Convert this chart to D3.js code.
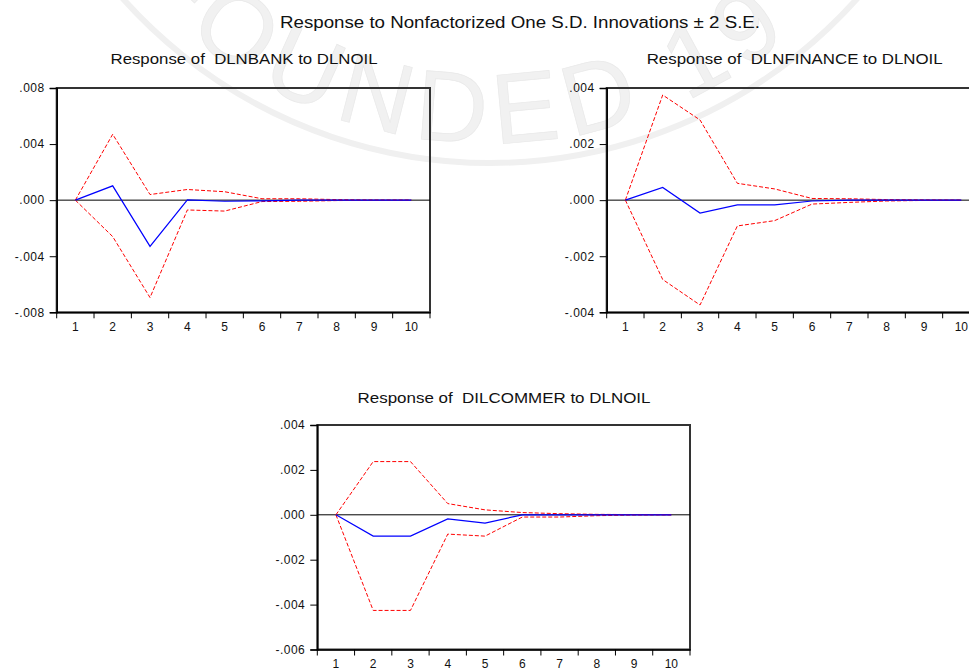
<!DOCTYPE html>
<html>
<head>
<meta charset="utf-8">
<script src="https://cdn.jsdelivr.net/npm/d3@7"></script>
<style>
  html, body { margin: 0; padding: 0; background: #fff; }
  svg { display: block; }
  text { font-family: "Liberation Sans", Arial, sans-serif; }
</style>
</head>
<body>
<svg id="chart" width="969" height="668"></svg>
<script>
// ---------------- data ----------------
const periods = [1, 2, 3, 4, 5, 6, 7, 8, 9, 10];

const mainTitle = "Response to Nonfactorized One S.D. Innovations \u00B1 2 S.E.";

const bankTitle = "Response of\u00A0 DLNBANK to DLNOIL";
const bankResp  = [0, 0.00102, -0.0033, 0.00002, -0.00008, -0.00005, 0, 0, 0, 0];
const bankUpper = [0, 0.0047, 0.0004, 0.00076, 0.0006, 0.0001, 0.0001, 0.00004, 0.00001, 0];
const bankLower = [0, -0.0026, -0.00695, -0.0007, -0.00078, -0.0001, -0.00008, -0.00003, -0.00001, 0];
const bankTicks = [-0.008, -0.004, 0, 0.004, 0.008];

const finTitle = "Response of\u00A0 DLNFINANCE to DLNOIL";
const finResp  = [0, 0.00045, -0.00046, -0.00017, -0.00017, -0.00003, 0, 0, 0, 0];
const finUpper = [0, 0.00375, 0.00286, 0.0006, 0.0004, 0.00006, 0.00005, 0.00002, 0.00001, 0];
const finLower = [0, -0.00283, -0.00374, -0.00092, -0.00073, -0.00014, -0.00008, -0.00003, -0.00001, 0];
const finTicks = [-0.004, -0.002, 0, 0.002, 0.004];

const comTitle = "Response of\u00A0 DILCOMMER to DLNOIL";
const comResp  = [0, -0.00095, -0.00095, -0.00018, -0.00037, 0, 0, 0, 0, 0];
const comUpper = [0, 0.00237, 0.00237, 0.0005, 0.00022, 0.0001, 0.00005, 0.00002, 0.00001, 0];
const comLower = [0, -0.00426, -0.00426, -0.00086, -0.00095, -0.0001, -0.0001, -0.00004, -0.00001, 0];
const comTicks = [-0.006, -0.004, -0.002, 0, 0.002, 0.004];

const watermarkText = "FOUNDED 19";

// ---------------- drawing ----------------
const svg = d3.select("#chart");
svg.append("rect").attr("width", 969).attr("height", 668).attr("fill", "#fff");

// faint watermark (seal)
const wm = svg.append("g");
const wcx = 490, wcy = -329, wr = 472;
const arcPath = (r, a0, a1) => { const p = d3.path(); p.arc(wcx, wcy, r, a0, a1, true); return p.toString(); };
wm.append("defs").append("path")
  .attr("id", "wmArc")
  .attr("d", arcPath(wr, Math.PI * 0.95, Math.PI * 0.05));
wm.append("text")
  .attr("font-family", "'Liberation Serif', 'DejaVu Serif', serif")
  .attr("font-size", 100)
  .attr("fill", "#f1f1f1")
  .attr("stroke", "#e9e9e9")
  .attr("stroke-width", 0.7)
  .attr("letter-spacing", 10)
  .append("textPath")
  .attr("href", "#wmArc")
  .attr("startOffset", "20%")
  .text(watermarkText);
wm.append("path")
  .attr("d", arcPath(492, Math.PI * 0.93, Math.PI * 0.07))
  .attr("fill", "none").attr("stroke", "#f0f0f0").attr("stroke-width", 6);

svg.append("text")
  .attr("x", 520).attr("y", 28)
  .attr("text-anchor", "middle")
  .attr("font-size", 16)
  .attr("textLength", 480)
  .attr("lengthAdjust", "spacingAndGlyphs")
  .attr("fill", "#111")
  .text(mainTitle);

const fmt = d => {
  const s = d3.format(".3f")(Math.abs(d)).replace(/^0/, "");
  return (d < -1e-12 ? "-" : "") + s;
};

function panel(opts) {
  const { left, top, width, height, domain, ticks, resp, upper, lower, title, titleX, titleY, titleLen } = opts;
  const g = svg.append("g");
  const x = d3.scaleBand().domain(periods).range([left, left + width]).padding(0);
  const y = d3.scaleLinear().domain(domain).range([top + height, top]);
  const cx = p => x(p) + x.bandwidth() / 2;

  // title
  g.append("text")
    .attr("x", titleX)
    .attr("y", titleY)
    .attr("text-anchor", "middle")
    .attr("font-size", 15)
    .attr("textLength", titleLen)
    .attr("lengthAdjust", "spacingAndGlyphs")
    .attr("fill", "#111")
    .text(title);

  // frame
  g.append("rect")
    .attr("x", left).attr("y", top)
    .attr("width", width).attr("height", height)
    .attr("fill", "none").attr("stroke", "#333").attr("stroke-width", 2);

  // zero line
  g.append("line")
    .attr("x1", left).attr("x2", left + width)
    .attr("y1", y(0)).attr("y2", y(0))
    .attr("stroke", "#000").attr("stroke-width", 1);

  // y axis
  const ya = g.append("g")
    .attr("transform", `translate(${left},0)`)
    .call(d3.axisLeft(y).tickValues(ticks).tickFormat(fmt).tickSize(7).tickPadding(5));
  ya.select(".domain").attr("stroke", "#000").attr("stroke-width", 1.5);
  ya.selectAll(".tick line").attr("stroke", "#000");
  ya.selectAll(".tick text")
    .attr("font-family", "'Liberation Sans', Arial, sans-serif")
    .attr("font-size", 12).attr("fill", "#111").attr("letter-spacing", 0.5);

  // x axis labels
  const xa = g.append("g")
    .attr("transform", `translate(0,${top + height})`)
    .call(d3.axisBottom(x).tickSize(0).tickPadding(10));
  xa.select(".domain").attr("stroke", "#000").attr("stroke-width", 1.5);
  xa.selectAll(".tick text")
    .attr("font-family", "'Liberation Sans', Arial, sans-serif")
    .attr("font-size", 12).attr("fill", "#111");
  // x tick marks at band boundaries
  const edges = periods.map(p => x(p)).concat([x.range()[1]]);
  g.selectAll(".xtick").data(edges).enter().append("line")
    .attr("x1", d => d).attr("x2", d => d)
    .attr("y1", top + height).attr("y2", top + height + 6)
    .attr("stroke", "#000").attr("stroke-width", 1);

  const line = d3.line().x((d, i) => cx(periods[i])).y(d => y(d));
  g.append("path").datum(upper).attr("d", line)
    .attr("fill", "none").attr("stroke", "#ff0000").attr("stroke-width", 1)
    .attr("stroke-dasharray", "4,2");
  g.append("path").datum(lower).attr("d", line)
    .attr("fill", "none").attr("stroke", "#ff0000").attr("stroke-width", 1)
    .attr("stroke-dasharray", "4,2");
  g.append("path").datum(resp).attr("d", line)
    .attr("fill", "none").attr("stroke", "#0000ff").attr("stroke-width", 1.2);
}

panel({ left: 56.7, top: 88, width: 373.3, height: 224.3, domain: [-0.008, 0.008], ticks: bankTicks,
        resp: bankResp, upper: bankUpper, lower: bankLower, title: bankTitle, titleX: 244, titleY: 64, titleLen: 267 });
panel({ left: 606.7, top: 88, width: 373.3, height: 224.3, domain: [-0.004, 0.004], ticks: finTicks,
        resp: finResp, upper: finUpper, lower: finLower, title: finTitle, titleX: 794.7, titleY: 64, titleLen: 296 });
panel({ left: 317.3, top: 425, width: 372.7, height: 224.5, domain: [-0.006, 0.004], ticks: comTicks,
        resp: comResp, upper: comUpper, lower: comLower, title: comTitle, titleX: 504, titleY: 402.5, titleLen: 293 });
</script>
</body>
</html>
